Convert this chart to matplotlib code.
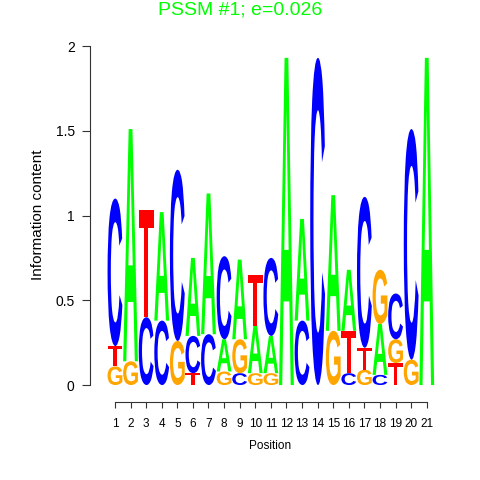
import matplotlib
matplotlib.use("Agg")
import matplotlib.pyplot as plt
from matplotlib.textpath import TextPath
from matplotlib.patches import PathPatch
from matplotlib.font_manager import FontProperties
from matplotlib.transforms import Affine2D

positions = list(range(1, 22))
# information content (bits) per letter and position
bits_A = [0, 1.37, 0, 0.64, 0, 0.46, 0.83, 0.19, 0.47, 0.28, 0.22, 1.93, 0.60, 0, 0.80, 0.36, 0, 0.30, 0, 0, 1.93]
bits_C = [0.87, 0, 0.40, 0.38, 1.01, 0.22, 0.30, 0.49, 0.07, 0, 0.46, 0, 0.38, 1.93, 0, 0.07, 0.89, 0.06, 0.27, 1.36, 0]
bits_G = [0.11, 0.14, 0, 0, 0.26, 0, 0, 0.08, 0.20, 0.07, 0.07, 0, 0, 0, 0.32, 0, 0.09, 0.32, 0.14, 0.15, 0]
bits_T = [0.12, 0, 0.63, 0, 0, 0.07, 0, 0, 0, 0.30, 0, 0, 0, 0, 0, 0.25, 0.13, 0, 0.13, 0, 0]

colors = {"A": "#00FF00", "C": "#0000FF", "G": "#FFA500", "T": "#FF0000"}
title = "PSSM #1; e=0.026"

font = FontProperties(family="Liberation Sans", weight="bold")
glyphs = {}
for ch in "ACGT":
    p = TextPath((0, 0), ch, size=1, prop=font)
    glyphs[ch] = (p, p.get_extents())


def draw_letter(ax, ch, xc, y0, h, width=0.95):
    path, bb = glyphs[ch]
    tr = (Affine2D()
          .translate(-bb.x0, -bb.y0)
          .scale(width / bb.width, h / bb.height)
          .translate(xc - width / 2, y0))
    ax.add_patch(PathPatch(tr.transform_path(path), facecolor=colors[ch],
                           edgecolor="none", lw=0))


fig = plt.figure(figsize=(4.8, 4.8), dpi=100)
ax = fig.add_axes([90 / 480, 78 / 480, 350 / 480, 356 / 480])

for i, pos in enumerate(positions):
    col = [("A", bits_A[i]), ("C", bits_C[i]), ("G", bits_G[i]), ("T", bits_T[i])]
    col = sorted([c for c in col if c[1] > 0.005], key=lambda c: c[1])
    y = 0
    for ch, h in col:
        draw_letter(ax, ch, pos, y, h)
        y += h

ax.set_xlim(-0.6, 21.85)
ax.set_ylim(-0.1, 2.0)
for s in ["top", "right"]:
    ax.spines[s].set_visible(False)
ax.spines["left"].set_bounds(0, 2)
ax.spines["bottom"].set_bounds(1, 21)
for s in ["left", "bottom"]:
    ax.spines[s].set_color("#333333")
    ax.spines[s].set_linewidth(0.8)

ax.set_xticks(positions)
ax.set_xticklabels([str(p) for p in positions], fontsize=8.5, family="Liberation Sans")
ax.set_yticks([0, 0.5, 1, 1.5, 2])
ax.set_yticklabels(["0", "0.5", "1", "1.5", "2"], fontsize=10, family="Liberation Sans")
ax.tick_params(axis="y", length=6, pad=5, color="#333333")
ax.tick_params(axis="x", length=4.3, pad=7, color="#333333")

fig.text(270 / 480, 1 - 446 / 480, "Position", ha="center", va="center",
         fontsize=8.5, family="Liberation Sans")
fig.text(38 / 480, 1 - 215 / 480, "Information content", ha="center", va="center",
         rotation=90, fontsize=11, family="Liberation Sans")
fig.text(0.5, 1 - 10 / 480, title, ha="center", va="center",
         fontsize=14, color="#00FF00", family="Liberation Sans")

fig.savefig("out.png", dpi=100)
